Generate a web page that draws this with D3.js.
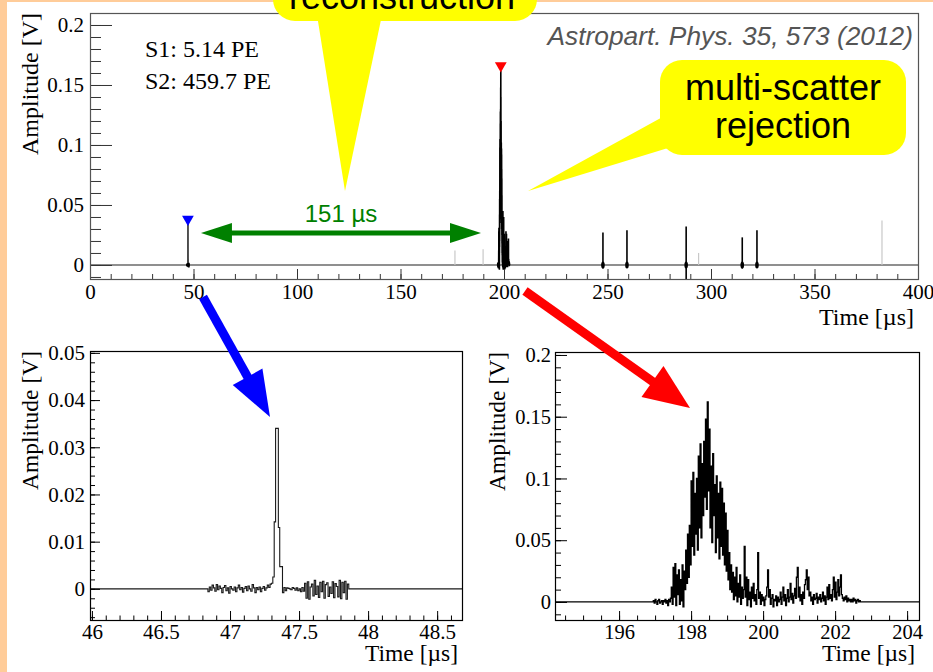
<!DOCTYPE html>
<html>
<head>
<meta charset="utf-8">
<script src="https://cdn.jsdelivr.net/npm/d3@7"></script>
<style>
  body { margin: 0; background: #fff; }
  svg { display: block; }
</style>
</head>
<body>
<script>
// ---------------- data ----------------
// S1 pulse, sampled every 10 ns starting at 46.83 us
const s1Start = 46.83, s1Step = 0.01;
const s1Amp = [
  0.0000, -0.0006, 0.0004, -0.0003, 0.0008, 0.0002, -0.0005, 0.0009, -0.0002, 0.0006,
  0.0001, -0.0008, 0.0003, 0.0007, -0.0004, 0.0002, -0.0009, 0.0005, 0.0000, -0.0003,
  0.0004, -0.0006, 0.0002, 0.0008, -0.0002, 0.0003, -0.0007, 0.0001, 0.0005, -0.0004,
  0.0006, 0.0000, -0.0005, 0.0009, 0.0002, -0.0008, 0.0003, -0.0002, 0.0004, -0.0006,
  0.0001, 0.0005, -0.0003, 0.0002, 0.0008, 0.0003, 0.0010, 0.0012, 0.0025, 0.0142,
  0.0340, 0.0340, 0.0130, 0.0047, 0.0047, -0.0008, 0.0003, -0.0004, 0.0002, 0.0001,
  0.0000, -0.0002, 0.0003, 0.0001, -0.0003, 0.0002, -0.0004, 0.0000, -0.0006, 0.0003,
  -0.0005, 0.0012, -0.0020, 0.0015, -0.0022, 0.0004, 0.0010, -0.0015, 0.0018, -0.0012,
  0.0006, -0.0018, 0.0014, -0.0006, 0.0016, -0.0020, 0.0009, 0.0013, -0.0016, 0.0004,
  -0.0010, 0.0015, -0.0019, 0.0011, 0.0005, -0.0017, 0.0018, -0.0021, 0.0014, -0.0008,
  0.0016, -0.0022, 0.0010
];

// S2 pulse, sampled every 25 ns starting at 196.95 us
const s2Start = 196.95, s2Step = 0.025;
const s2Amp = [
  0.001, -0.001, 0.002, 0.000, -0.002, 0.001, 0.002, -0.001, 0.000, 0.001,
  -0.002, 0.001, 0.000, 0.002, -0.001, 0.001, -0.003, 0.002, 0.000, 0.003,
  0.012, -0.002, 0.028, 0.004, 0.031, -0.003, 0.022, 0.006, 0.026, -0.002,
  0.018, 0.001, 0.030, -0.004, 0.025, 0.010, 0.042, 0.015, 0.055, 0.020,
  0.062, 0.030, 0.098, 0.045, 0.105, 0.038, 0.088, 0.055, 0.100, 0.042,
  0.118, 0.060, 0.128, 0.052, 0.112, 0.070, 0.130, 0.085, 0.148, 0.075,
  0.162, 0.090, 0.140, 0.060, 0.110, 0.048, 0.120, 0.070, 0.095, 0.040,
  0.102, 0.052, 0.088, 0.035, 0.097, 0.045, 0.092, 0.038, 0.080, 0.030,
  0.072, 0.025, 0.058, 0.018, 0.040, 0.010, 0.030, 0.008, 0.024, 0.002,
  0.020, 0.005, 0.028, 0.000, 0.015, 0.004, 0.022, -0.002, 0.012, 0.003,
  0.010, 0.045, 0.004, 0.020, -0.003, 0.018, 0.002, 0.008, -0.004, 0.012,
  0.003, 0.015, 0.001, 0.006, -0.002, 0.010, 0.040, 0.003, 0.008, -0.002,
  0.006, 0.001, 0.004, -0.003, 0.002, 0.005, 0.012, 0.026, 0.004, 0.010,
  -0.002, 0.003, 0.006, -0.004, 0.002, 0.001, 0.005, -0.003, 0.004, 0.000,
  0.002, 0.008, -0.002, 0.004, 0.012, 0.001, 0.006, -0.003, 0.003, 0.010,
  0.000, 0.004, 0.015, 0.002, 0.007, -0.001, 0.005, 0.011, 0.003, 0.020,
  0.028, 0.004, 0.012, 0.001, 0.006, -0.002, 0.008, 0.003, 0.014, 0.018,
  0.026, 0.010, 0.020, 0.005, 0.008, 0.001, 0.004, -0.002, 0.006, 0.002,
  0.003, 0.007, -0.001, 0.004, 0.002, 0.006, 0.000, 0.003, 0.008, 0.001,
  0.005, -0.002, 0.004, 0.012, 0.002, 0.014, 0.003, 0.006, 0.001, 0.010,
  0.020, 0.004, 0.016, 0.002, 0.008, 0.018, 0.005, 0.012, 0.022, 0.006,
  0.003, 0.001, 0.004, 0.002, 0.005, 0.000, 0.003, 0.001, 0.002, 0.000,
  0.002, 0.000, 0.003, 0.001, 0.002, -0.001, 0.001, 0.002, 0.000, 0.001, 0.000
];

// later pulses in the full trace (black) and faint pulses (grey)
const pulseTimes = [247.8, 259.4, 288.0, 315.1, 322.2];
const pulseHighs = [0.027, 0.029, 0.032, 0.023, 0.029];
const pulseLows  = [-0.003, -0.002, -0.013, -0.003, -0.002];
const ghostTimes = [176.3, 189.9, 294.0, 382.6];
const ghostAmps  = [0.012, 0.013, 0.010, 0.037];

const s1Label = "S1: 5.14 PE";
const s2Label = "S2: 459.7 PE";
const driftTime = "151 µs";
const driftFrom = 53.6, driftTo = 188.9, driftLevel = 0.0267;

const fullXMajor = [0, 50, 100, 150, 200, 250, 300, 350, 400];
const fullYMajor = [0, 0.05, 0.1, 0.15, 0.2];
const blXMajor = [46, 46.5, 47, 47.5, 48, 48.5];
const blYMajor = [0, 0.01, 0.02, 0.03, 0.04, 0.05];
const brXMajor = [196, 198, 200, 202, 204];
const brYMajor = [0, 0.05, 0.1, 0.15, 0.2];

// ---------------- drawing ----------------
const W = 933, H = 672;
const svg = d3.select("body").append("svg").attr("width", W).attr("height", H);
svg.append("rect").attr("width", W).attr("height", H).attr("fill", "#fff");
svg.append("rect").attr("x", 0).attr("y", 0).attr("width", 7).attr("height", H).attr("fill", "#ffcc99");
svg.append("rect").attr("x", 0).attr("y", 0).attr("width", W).attr("height", 2).attr("fill", "#ffcc99");

const serif = "'Liberation Serif', 'Times New Roman', serif";
const sans = "'Liberation Sans', Arial, sans-serif";

function fmt(d) { return String(+d.toFixed(4)); }

// builds one ROOT-like frame with inside ticks
function panel(o) {
  const x = d3.scaleLinear().domain(o.xDom).range([o.left, o.right]);
  const y = d3.scaleLinear().domain(o.yDom).range([o.bottom, o.top]);
  const g = svg.append("g");
  const id = "clip" + o.name;
  svg.append("clipPath").attr("id", id).append("rect")
    .attr("x", o.left).attr("y", o.top).attr("width", o.right - o.left).attr("height", o.bottom - o.top);
  const plot = g.append("g").attr("clip-path", `url(#${id})`);

  function axisStyle(a) {
    a.select(".domain").remove();
    a.selectAll(".tick line").attr("stroke", o.tickColor);
    a.selectAll("text").attr("font-family", serif).attr("font-size", o.fontSize).attr("fill", "#000");
  }
  const xm = d3.range(Math.ceil(o.xDom[0] / o.xMinorStep), Math.floor(o.xDom[1] / o.xMinorStep) + 1).map(k => k * o.xMinorStep);
  const ym = d3.range(Math.ceil(o.yDom[0] / o.yMinorStep), Math.floor(o.yDom[1] / o.yMinorStep) + 1).map(k => k * o.yMinorStep);

  g.append("g").attr("transform", `translate(0,${o.bottom})`)
    .call(d3.axisBottom(x).tickValues(xm).tickSize(-o.xMinLen).tickFormat(""))
    .call(axisStyle);
  g.append("g").attr("transform", `translate(0,${o.bottom})`)
    .call(d3.axisBottom(x).tickValues(o.xMajor).tickSize(-o.xMajLen).tickPadding(o.xPad).tickFormat(fmt))
    .call(axisStyle);
  g.append("g").attr("transform", `translate(${o.left},0)`)
    .call(d3.axisLeft(y).tickValues(ym).tickSize(-o.yMinLen).tickFormat(""))
    .call(axisStyle);
  g.append("g").attr("transform", `translate(${o.left},0)`)
    .call(d3.axisLeft(y).tickValues(o.yMajor).tickSize(-o.yMajLen).tickPadding(o.yPad).tickFormat(fmt))
    .call(axisStyle);

  g.append("rect").attr("x", o.left + 0.5).attr("y", o.top + 0.5)
    .attr("width", o.right - o.left).attr("height", o.bottom - o.top)
    .attr("fill", "none").attr("stroke", o.frameColor).attr("stroke-width", 1.2);

  g.append("text").attr("x", o.right - 4).attr("y", o.xTitleY)
    .attr("text-anchor", "end").attr("font-family", serif).attr("font-size", o.titleSize)
    .text("Time [µs]");
  g.append("text").attr("transform", `translate(${o.yTitleX},${o.top}) rotate(-90)`)
    .attr("text-anchor", "end").attr("font-family", serif).attr("font-size", o.titleSize)
    .text("Amplitude [V]");
  return { x, y, g, plot };
}

const s1Pts = s1Amp.map((v, i) => ({ t: s1Start + i * s1Step, v }));
const s2Pts = s2Amp.map((v, i) => ({ t: s2Start + i * s2Step, v }));

// ---- upper panel: full trace ----
const full = panel({
  name: "full", xDom: [0, 400], yDom: [-0.0117, 0.21],
  left: 90, right: 918, top: 13, bottom: 279,
  xMajor: fullXMajor, yMajor: fullYMajor, xMinorStep: 10, yMinorStep: 0.01,
  xMajLen: 10, xMinLen: 5, yMajLen: 22, yMinLen: 11, xPad: 5, yPad: 6,
  fontSize: 21, titleSize: 24, tickColor: "#333", frameColor: "#555",
  xTitleY: 325, yTitleX: 38
});
full.plot.append("line")
  .attr("x1", full.x(0)).attr("x2", full.x(400)).attr("y1", full.y(0)).attr("y2", full.y(0))
  .attr("stroke", "#6a6a6a").attr("stroke-width", 1.6);
full.plot.selectAll(".ghost").data(ghostTimes).join("line")
  .attr("x1", d => full.x(d)).attr("x2", d => full.x(d))
  .attr("y1", full.y(0)).attr("y2", (d, i) => full.y(ghostAmps[i]))
  .attr("stroke", "#c8c8c8").attr("stroke-width", 1.2);
const fullLine = d3.line().x(d => full.x(d.t)).y(d => full.y(d.v));
full.plot.append("path").datum(s1Pts).attr("d", fullLine).attr("fill", "none").attr("stroke", "#000").attr("stroke-width", 1.3);
full.plot.append("path").datum(s2Pts).attr("d", fullLine).attr("fill", "none").attr("stroke", "#000").attr("stroke-width", 1.6);
full.plot.append("circle").attr("cx", full.x(47.3)).attr("cy", full.y(0)).attr("r", 2).attr("fill", "#000");
full.plot.selectAll(".pulse").data(pulseTimes).join("line")
  .attr("x1", d => full.x(d)).attr("x2", d => full.x(d))
  .attr("y1", (d, i) => full.y(pulseLows[i])).attr("y2", (d, i) => full.y(pulseHighs[i]))
  .attr("stroke", "#000").attr("stroke-width", 1.6);
full.plot.selectAll(".pulseBase").data(pulseTimes).join("ellipse")
  .attr("cx", d => full.x(d)).attr("cy", full.y(0)).attr("rx", 1.8).attr("ry", 3.5).attr("fill", "#000");

// S1 / S2 markers
const tri = d3.symbol().type(d3.symbolTriangle).size(60);
full.g.append("path").attr("d", tri).attr("fill", "#0000ff")
  .attr("transform", `translate(${full.x(47.3)},${full.y(0.034) - 5}) rotate(180)`);
full.g.append("path").attr("d", tri).attr("fill", "#ff0000")
  .attr("transform", `translate(${full.x(198.45)},${full.y(0.162) - 5}) rotate(180)`);

full.g.append("text").attr("x", 145).attr("y", 57).attr("font-family", serif).attr("font-size", 24).text(s1Label);
full.g.append("text").attr("x", 145).attr("y", 89).attr("font-family", serif).attr("font-size", 24).text(s2Label);
full.g.append("text").attr("x", 913).attr("y", 45).attr("text-anchor", "end")
  .attr("font-family", sans).attr("font-size", 26.3).attr("font-style", "italic").attr("fill", "#555")
  .text("Astropart. Phys. 35, 573 (2012)");

// drift-time arrow
const green = "#008000";
const ay = full.y(driftLevel), ax1 = full.x(driftFrom), ax2 = full.x(driftTo);
full.g.append("line").attr("x1", ax1 + 25).attr("x2", ax2 - 25).attr("y1", ay).attr("y2", ay)
  .attr("stroke", green).attr("stroke-width", 5);
full.g.append("path").attr("fill", green)
  .attr("d", `M${ax1},${ay}L${ax1 + 31},${ay - 10}L${ax1 + 31},${ay + 10}Z`);
full.g.append("path").attr("fill", green)
  .attr("d", `M${ax2},${ay}L${ax2 - 31},${ay - 10}L${ax2 - 31},${ay + 10}Z`);
full.g.append("text").attr("x", (ax1 + ax2) / 2).attr("y", ay - 11).attr("text-anchor", "middle")
  .attr("font-family", sans).attr("font-size", 24).attr("fill", green).text(driftTime);

// ---- bottom left: S1 zoom ----
const bl = panel({
  name: "bl", xDom: [45.986, 48.68], yDom: [-0.0066, 0.0504],
  left: 90, right: 462, top: 351, bottom: 620,
  xMajor: blXMajor, yMajor: blYMajor, xMinorStep: 0.1, yMinorStep: 0.002,
  xMajLen: 9, xMinLen: 4.5, yMajLen: 10, yMinLen: 5, xPad: 4, yPad: 5,
  fontSize: 21, titleSize: 23.5, tickColor: "#000", frameColor: "#000",
  xTitleY: 661, yTitleX: 38
});
const blPts = [{ t: 45.986, v: 0 }, ...s1Pts, { t: s1Start + s1Amp.length * s1Step, v: 0 }, { t: 48.68, v: 0 }];
bl.plot.append("path").datum(blPts)
  .attr("d", d3.line().curve(d3.curveStepAfter).x(d => bl.x(d.t)).y(d => bl.y(d.v)))
  .attr("fill", "none").attr("stroke", "#1a1a1a").attr("stroke-width", 1.1);

// ---- bottom right: S2 zoom ----
const br = panel({
  name: "br", xDom: [194.22, 204.33], yDom: [-0.0146, 0.2024],
  left: 555, right: 919, top: 352, bottom: 620,
  xMajor: brXMajor, yMajor: brYMajor, xMinorStep: 0.5, yMinorStep: 0.01,
  xMajLen: 9, xMinLen: 4.5, yMajLen: 12, yMinLen: 6, xPad: 4, yPad: 4,
  fontSize: 20.5, titleSize: 23.5, tickColor: "#000", frameColor: "#000",
  xTitleY: 661, yTitleX: 505
});
const brPts = [{ t: 194.22, v: 0 }, ...s2Pts, { t: s2Start + s2Amp.length * s2Step, v: 0 }, { t: 204.33, v: 0 }];
br.plot.append("path").datum(brPts)
  .attr("d", d3.line().curve(d3.curveStepAfter).x(d => br.x(d.t)).y(d => br.y(d.v)))
  .attr("fill", "none").attr("stroke", "#000").attr("stroke-width", 1.3);

// ---- zoom arrows ----
function bigArrow(x0, y0, x1, y1, color, w, headLen, headHalf) {
  const dx = x1 - x0, dy = y1 - y0, L = Math.hypot(dx, dy);
  const ux = dx / L, uy = dy / L, px = -uy, py = ux;
  const bx = x1 - ux * headLen, by = y1 - uy * headLen;
  svg.append("line").attr("x1", x0).attr("y1", y0).attr("x2", bx + ux * 2).attr("y2", by + uy * 2)
    .attr("stroke", color).attr("stroke-width", w);
  svg.append("path").attr("fill", color)
    .attr("d", `M${x1},${y1}L${bx + px * headHalf},${by + py * headHalf}L${bx - px * headHalf},${by - py * headHalf}Z`);
}
bigArrow(203, 297, 270, 417, "#0000ff", 9, 46, 17);
bigArrow(525, 291, 690, 408, "#ff0000", 9, 46, 19);

// ---- yellow callouts ----
const yellow = "#ffff00";
svg.append("path").attr("fill", yellow).attr("d", "M317,15L382,15L345,191Z");
svg.append("rect").attr("x", 273).attr("y", -40).attr("width", 264).attr("height", 61).attr("rx", 22).attr("fill", yellow);
svg.append("text").attr("x", 402).attr("y", 9).attr("text-anchor", "middle")
  .attr("font-family", sans).attr("font-size", 36).text("reconstruction");

svg.append("path").attr("fill", yellow).attr("d", "M528,191L668,114L668,148Z");
svg.append("rect").attr("x", 660).attr("y", 60).attr("width", 246).attr("height", 95).attr("rx", 22).attr("fill", yellow);
svg.append("text").attr("x", 783).attr("y", 100).attr("text-anchor", "middle")
  .attr("font-family", sans).attr("font-size", 36).text("multi-scatter");
svg.append("text").attr("x", 783).attr("y", 138).attr("text-anchor", "middle")
  .attr("font-family", sans).attr("font-size", 36).text("rejection");
</script>
</body>
</html>
